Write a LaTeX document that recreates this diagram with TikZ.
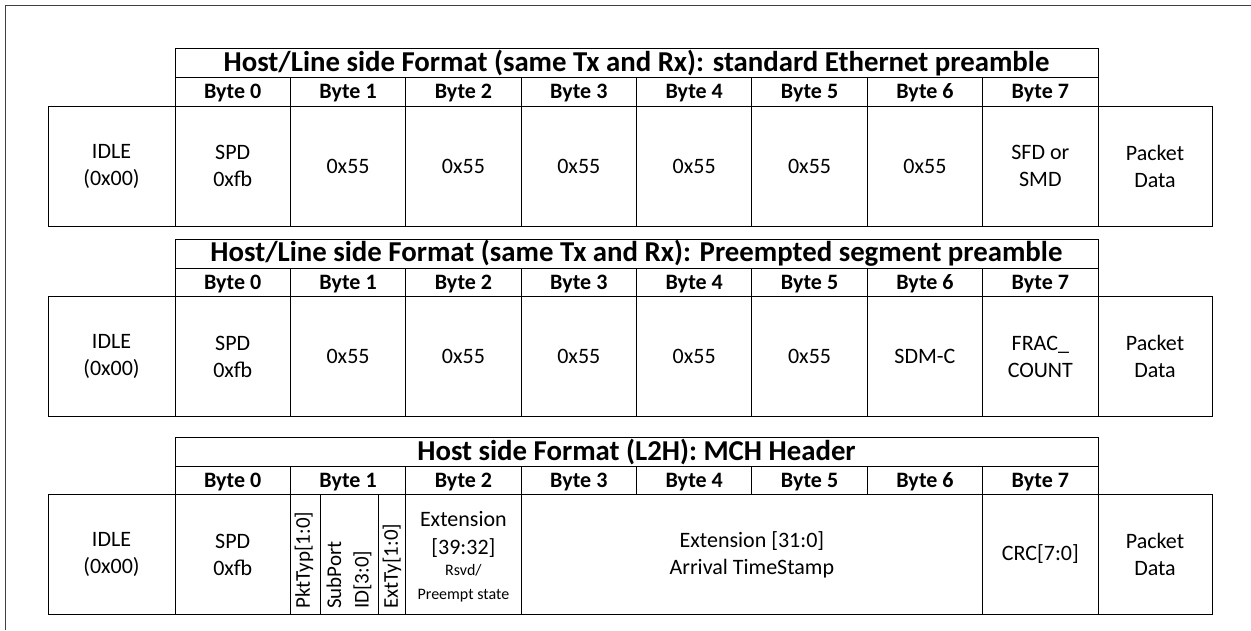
\documentclass[tikz,border=0pt]{standalone}
\usepackage{fontspec}
\setmainfont{Carlito}
% \boxcell{style}{x1}{y1}{x2}{y2}{name}{text}: a framed cell spanning the given corners
\newcommand\boxcell[7]{%
  \node[#1, minimum width={#4-#2}, minimum height={#5-#3}] (#6) at ({(#2+#4)/2},{(#3+#5)/2}) {#7};}
% \frametable{prefix}{top}{title}: title bar, byte header row, IDLE and Packet Data cells
\newcommand\frametable[3]{%
  \pgfmathsetmacro\ta{#2}%
  \pgfmathsetmacro\tb{#2+29}%
  \pgfmathsetmacro\tc{#2+57.5}%
  \pgfmathsetmacro\td{#2+177.5}%
  \boxcell{titlecell}{175}{\ta}{1098}{\tb}{#1title}{#3}
  \foreach \k in {0,...,7}{%
    \pgfmathsetmacro\xl{175+\k*115.375}%
    \pgfmathsetmacro\xr{\xl+115.375}%
    \boxcell{bytecell}{\xl}{\tb}{\xr}{\tc}{#1byte\k}{Byte \k}}
  \boxcell{cell}{48}{\tc}{175}{\td}{#1idle}{IDLE\\(0x00)}
  \boxcell{cell}{1098}{\tc}{1212}{\td}{#1pkt}{Packet\\Data}
}
\begin{document}
\begin{tikzpicture}[x=1pt,y=-1pt,
  cell/.style={draw, line width=1pt, inner sep=0pt, outer sep=0pt, align=center,
    font=\fontsize{22}{27}\selectfont},
  titlecell/.style={cell, font=\bfseries\fontsize{28.8}{30}\selectfont},
  bytecell/.style={cell, font=\bfseries\fontsize{22}{24}\selectfont,
    text height=16.5pt, text depth=2.5pt},
  vtext/.style={rotate=90, anchor=west, inner sep=0pt, align=left,
    font=\fontsize{21}{27.5}\selectfont},
  linetext/.style={anchor=base, inner sep=0pt, font=\fontsize{22}{27}\selectfont},
  smalltext/.style={anchor=base, inner sep=0pt, font=\fontsize{16}{20}\selectfont},
]
\useasboundingbox (0,0) rectangle (1251,630);
% page frame
\draw[line width=0.8pt, black!75] (5,630) -- (5,5) -- (1251,5);

% standard Ethernet preamble
\frametable{a}{48.5}{Host/Line side Format (same Tx and Rx): standard Ethernet preamble}
\boxcell{cell}{175}{106}{290.375}{226}{aspd}{SPD\\0xfb}
\foreach \k in {1,...,6}{%
  \pgfmathsetmacro\xl{175+\k*115.375}%
  \pgfmathsetmacro\xr{\xl+115.375}%
  \boxcell{cell}{\xl}{106}{\xr}{226}{ad\k}{0x55}}
\boxcell{cell}{982.625}{106}{1098}{226}{asfd}{SFD or\\SMD}

% preempted segment preamble
\frametable{b}{239}{Host/Line side Format (same Tx and Rx): Preempted segment preamble}
\boxcell{cell}{175}{296.5}{290.375}{416.5}{bspd}{SPD\\0xfb}
\foreach \k in {1,...,5}{%
  \pgfmathsetmacro\xl{175+\k*115.375}%
  \pgfmathsetmacro\xr{\xl+115.375}%
  \boxcell{cell}{\xl}{296.5}{\xr}{416.5}{bd\k}{0x55}}
\boxcell{cell}{867.25}{296.5}{982.625}{416.5}{bsdm}{SDM-C}
\boxcell{cell}{982.625}{296.5}{1098}{416.5}{bfrac}{FRAC\_\\COUNT}

% MCH header
\frametable{c}{437}{Host side Format (L2H): MCH Header}
\boxcell{cell}{175}{494.5}{290.375}{614.5}{cspd}{SPD\\0xfb}
\boxcell{cell}{290.375}{494.5}{320}{614.5}{cpkt}{}
\boxcell{cell}{320}{494.5}{378}{614.5}{csub}{}
\boxcell{cell}{378}{494.5}{405.75}{614.5}{cext}{}
\node[vtext] (cpktt) at (304,609) {PktTyp[1:0]};
\node[vtext] (csubt) at (349,609) {SubPort\\ID[3:0]};
\node[vtext] (cextt) at (392,609) {ExtTy[1:0]};
\boxcell{cell}{405.75}{494.5}{521.125}{614.5}{cexth}{}
\node[linetext]  (cexth1) at (463.4,526.5) {Extension};
\node[linetext]  (cexth2) at (463.4,554) {[39:32]};
\node[smalltext] (cexth3) at (463.4,575.5) {Rsvd/};
\node[smalltext] (cexth4) at (463.4,599.5) {Preempt state};
\boxcell{cell}{521.125}{494.5}{982.625}{614.5}{cextl}{Extension [31:0]\\Arrival TimeStamp}
\boxcell{cell}{982.625}{494.5}{1098}{614.5}{ccrc}{CRC[7:0]}
\end{tikzpicture}
\end{document}
